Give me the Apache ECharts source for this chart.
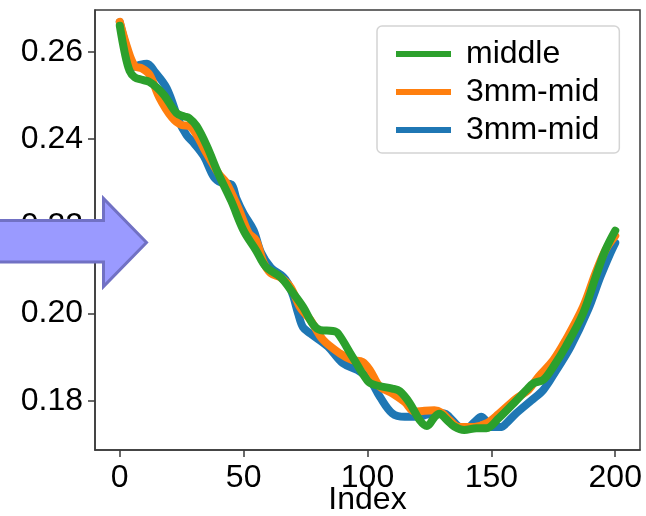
<!DOCTYPE html>
<html>
<head>
<meta charset="utf-8">
<script src="https://cdn.jsdelivr.net/npm/echarts@6/dist/echarts.min.js"></script>
<style>
  html, body { margin: 0; padding: 0; background: #fff; }
  #chart { width: 646px; height: 516px; }
</style>
</head>
<body>
<div id="chart"></div>
<script>
// Tick positions
const xTicks = [0, 50, 100, 150, 200];
const yTicks = [0.18, 0.20, 0.22, 0.24, 0.26];

// Series labels in legend order
const seriesNames = ['middle', '3mm-mid', '3mm-mid'];

// middle
const greenIdx = [0,2,4,6,9,12,15,18,23,26,28,31,35,40,45,50,55,59,65,69,74,78,81,86,88,94,100,103,110,113,117,121,124,127,129,132,135,139,144,148,153,160,164,167,171,175,180,187,192,196,200];
const greenVal = [0.2660,0.2598,0.2556,0.2542,0.2536,0.2531,0.2518,0.2500,0.2459,0.2452,0.2448,0.2430,0.2386,0.2318,0.2258,0.2190,0.2145,0.2107,0.2083,0.2054,0.2015,0.1975,0.1962,0.1960,0.1955,0.1900,0.1846,0.1836,0.1828,0.1822,0.1795,0.1756,0.1742,0.1762,0.1770,0.1756,0.1741,0.1733,0.1737,0.1737,0.1760,0.1800,0.1824,0.1840,0.1848,0.1878,0.1924,0.2000,0.2082,0.2145,0.2190];

// 3mm-mid (orange)
const orangeIdx = [0,3,6,9,12,16,21,25,28,31,34,40,43,48,52,55,58,61,65,69,73,77,82,89,94,98,101,105,110,115,119,123,127,130,133,137,143,148,153,160,165,169,175,180,187,192,196,200];
const orangeVal = [0.2669,0.2610,0.2568,0.2562,0.2548,0.2495,0.2450,0.2432,0.2430,0.2410,0.2378,0.2320,0.2300,0.2240,0.2185,0.2168,0.2118,0.2092,0.2082,0.2060,0.2012,0.1985,0.1940,0.1908,0.1893,0.1889,0.1870,0.1832,0.1817,0.1797,0.1775,0.1777,0.1778,0.1772,0.1756,0.1740,0.1740,0.1748,0.1770,0.1805,0.1825,0.1855,0.1893,0.1939,0.2015,0.2092,0.2145,0.2178];

// 3mm-mid (blue)
const blueIdx = [0,3,6,8,11,14,19,24,27,30,34,38,41,45,47,50,54,57,61,66,68,70,72,74,77,84,90,96,101,105,110,115,120,124,127,131,133,137,140,143,146,150,154,156,160,166,171,176,182,189,194,198,200];
const blueVal = [0.2668,0.2605,0.2566,0.2570,0.2573,0.2555,0.2516,0.2440,0.2409,0.2390,0.2360,0.2313,0.2300,0.2296,0.2265,0.2229,0.2191,0.2140,0.2105,0.2084,0.2068,0.2040,0.2000,0.1968,0.1954,0.1924,0.1886,0.1870,0.1847,0.1809,0.1771,0.1763,0.1763,0.1768,0.1772,0.1771,0.1763,0.1740,0.1737,0.1750,0.1763,0.1740,0.1740,0.1748,0.1771,0.1800,0.1825,0.1868,0.1924,0.2008,0.2084,0.2138,0.2162];

const FONT = '"Liberation Sans", Arial, Helvetica, sans-serif';
const SPINE = '#3a3a3a';
const FS = 32;

function pairs(xs, ys) { return xs.map((x, i) => [x, ys[i]]); }

// internal keys keep the two identically-labelled series apart in the legend
const keys = ['middle', '3mm-mid', '3mm-mid '];

function lineSeries(key, color, xs, ys) {
  return {
    name: key,
    type: 'line',
    data: pairs(xs, ys),
    color: color,
    smooth: 0.35,
    showSymbol: false,
    symbol: 'none',
    lineStyle: { color: color, width: 8, cap: 'round', join: 'round' },
    emphasis: { disabled: true },
    animation: false
  };
}

const chart = echarts.init(document.getElementById('chart'), null, { renderer: 'canvas' });

chart.setOption({
  animation: false,
  backgroundColor: '#fff',
  grid: {
    left: 95, top: 10, right: 6, bottom: 66,
    outerBoundsMode: 'none',
    containLabel: false,
    show: true, borderColor: SPINE, borderWidth: 1.5, backgroundColor: 'transparent'
  },
  xAxis: {
    type: 'value', min: -10, max: 210,
    axisLine: { show: true, onZero: false, lineStyle: { color: SPINE, width: 1.5 } },
    axisTick: { show: true, customValues: xTicks, length: 7, lineStyle: { color: SPINE, width: 1.5 } },
    axisLabel: { customValues: xTicks, fontSize: FS, color: '#000', fontFamily: FONT, margin: 12 },
    splitLine: { show: false },
    name: 'Index', nameLocation: 'middle', nameGap: 34, nameMoveOverlap: false,
    nameTextStyle: { fontSize: FS, color: '#000', fontFamily: FONT, verticalAlign: 'top' }
  },
  yAxis: {
    type: 'value', min: 0.1687, max: 0.2696,
    axisLine: { show: true, onZero: false, lineStyle: { color: SPINE, width: 1.5 } },
    axisTick: { show: true, customValues: yTicks, length: 7, lineStyle: { color: SPINE, width: 1.5 } },
    axisLabel: { customValues: yTicks, fontSize: FS, color: '#000', fontFamily: FONT, margin: 12,
      formatter: v => v.toFixed(2) },
    splitLine: { show: false }
  },
  legend: {
    data: [keys[0], keys[1], keys[2]],
    orient: 'vertical', left: 377, top: 26,
    icon: 'rect', itemWidth: 55, itemHeight: 6, itemGap: 6,
    padding: [12, 20, 7, 19],
    backgroundColor: 'rgba(255,255,255,0.85)',
    borderColor: '#d4d4d4', borderWidth: 1.5, borderRadius: 5,
    selectedMode: false,
    formatter: n => seriesNames[keys.indexOf(n)],
    textStyle: { fontSize: FS, color: '#000', fontFamily: FONT, padding: [0, 0, 0, 10] }
  },
  series: [
    lineSeries(keys[2], '#1f77b4', blueIdx, blueVal),
    lineSeries(keys[1], '#ff7f0e', orangeIdx, orangeVal),
    lineSeries(keys[0], '#2ca02c', greenIdx, greenVal)
  ],
  graphic: [{
    type: 'polygon',
    z: 100,
    shape: {
      points: [[-6, 220.5], [103.5, 220.5], [103.5, 198.5], [146.5, 242.5], [103.5, 286.5], [103.5, 262], [-6, 262]]
    },
    style: { fill: '#9a9aff', stroke: '#7171c4', lineWidth: 3, lineJoin: 'miter' }
  }]
});
</script>
</body>
</html>
